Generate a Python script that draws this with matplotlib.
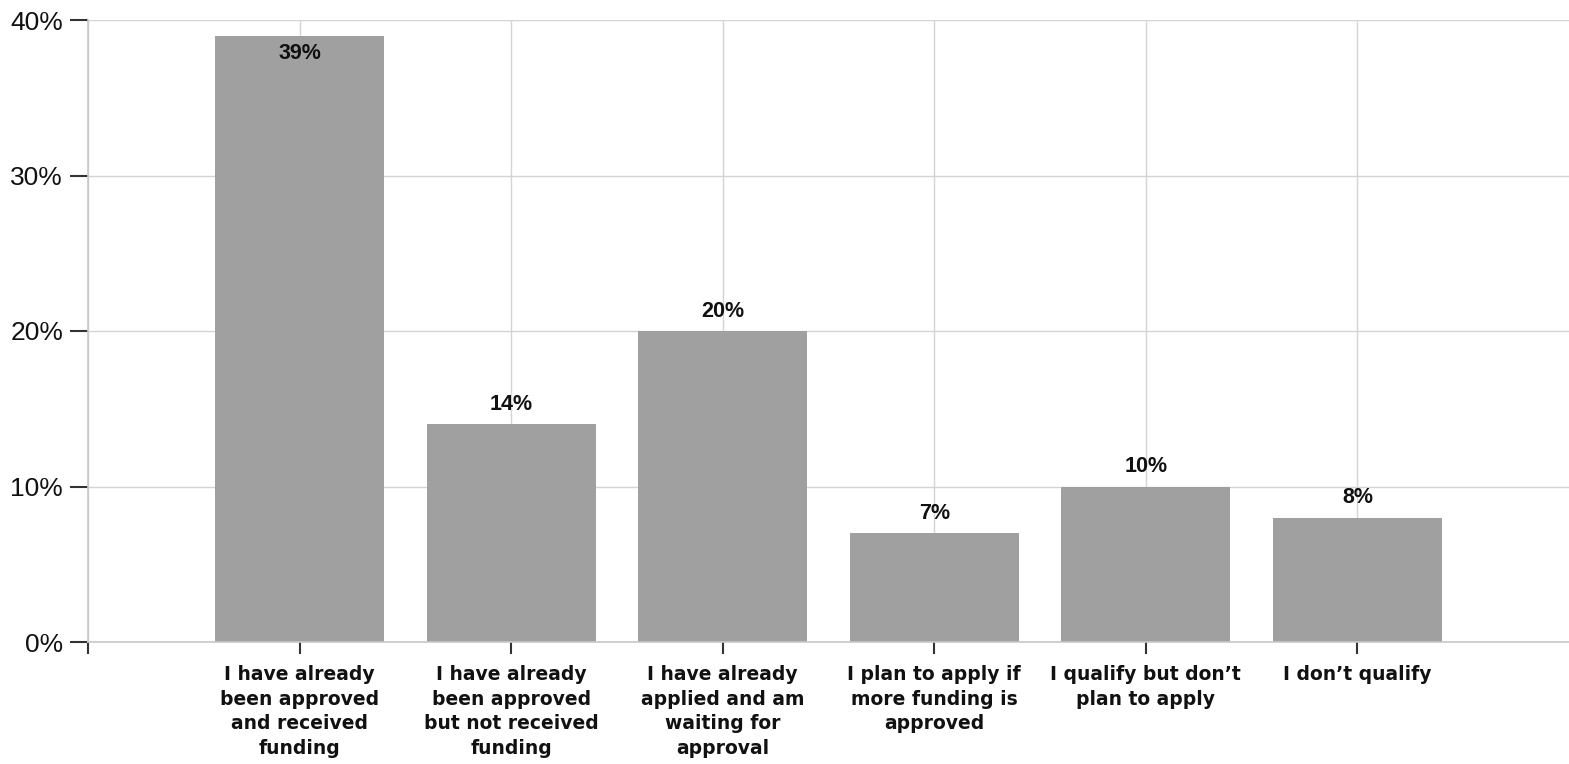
import matplotlib
matplotlib.use("Agg")
import matplotlib.pyplot as plt
from matplotlib.ticker import FuncFormatter

categories = [
    "I have already\nbeen approved\nand received\nfunding",
    "I have already\nbeen approved\nbut not received\nfunding",
    "I have already\napplied and am\nwaiting for\napproval",
    "I plan to apply if\nmore funding is\napproved",
    "I qualify but don\u2019t\nplan to apply",
    "I don\u2019t qualify",
]
values = [39, 14, 20, 7, 10, 8]
yticks = [0, 10, 20, 30, 40]

fig = plt.figure(figsize=(15.69, 7.64), dpi=100)
ax = fig.add_axes([88/1569, 122/764, 1 - 88/1569, (642-20)/764])

x = list(range(len(values)))
ax.bar(x, values, width=0.8, color="#a0a0a0", zorder=2)
ax.set_xlim(-1, 6)
ax.set_ylim(0, 40)

ax.set_yticks(yticks)
ax.yaxis.set_major_formatter(FuncFormatter(lambda v, p: f"{int(v)}%"))
ax.set_xticks([-1] + x)
ax.set_xticklabels([""] + categories)

ax.grid(True, color="#d4d4d4", linewidth=1, zorder=0)
ax.set_axisbelow(True)
for s in ["top", "right"]:
    ax.spines[s].set_visible(False)
for s in ["left", "bottom"]:
    ax.spines[s].set_color("#c8c8c8")
    ax.spines[s].set_linewidth(1.2)

ax.tick_params(axis="y", length=13, width=1.5, color="#333333", pad=5, labelsize=19)
ax.tick_params(axis="x", length=8.6, width=1.5, color="#333333", pad=8)
for lbl in ax.get_yticklabels():
    lbl.set_family("Liberation Sans")
    lbl.set_color("#111111")
for lbl in ax.get_xticklabels():
    lbl.set_family("DejaVu Sans")
    lbl.set_fontweight("bold")
    lbl.set_fontsize(13.5)
    lbl.set_linespacing(1.38)
    lbl.set_color("#111111")

for xi, v in zip(x, values):
    if v > 35:
        ax.text(xi, v - 0.5, f"{v}%", ha="center", va="top", fontsize=15.5,
                fontweight="bold", family="Liberation Sans", color="#111111", zorder=3)
    else:
        ax.text(xi, v + 0.6, f"{v}%", ha="center", va="bottom", fontsize=15.5,
                fontweight="bold", family="Liberation Sans", color="#111111", zorder=3)

fig.savefig("out.png", dpi=100)
